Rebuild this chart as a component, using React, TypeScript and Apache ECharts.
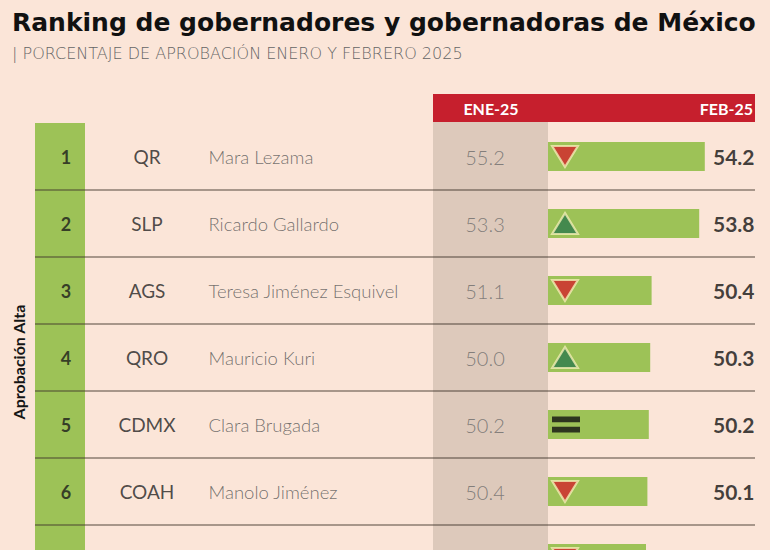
import React, { useEffect, useRef } from "react";
import * as echarts from "echarts";

const ranks = ["1", "2", "3", "4", "5", "6", "7"];
const states = ["QR", "SLP", "AGS", "QRO", "CDMX", "COAH", "YUC"];
const governors = [
  "Mara Lezama",
  "Ricardo Gallardo",
  "Teresa Jiménez Esquivel",
  "Mauricio Kuri",
  "Clara Brugada",
  "Manolo Jiménez",
  "Joaquín Díaz Mena",
];
const eneValues = [55.2, 53.3, 51.1, 50.0, 50.2, 50.4, 50.6];
const febValues = [54.2, 53.8, 50.4, 50.3, 50.2, 50.1, 50.0];
const columnLabels = ["ENE-25", "FEB-25"];
const titleText = "Ranking de gobernadores y gobernadoras de México";
const subtitleText = "| PORCENTAJE DE APROBACIÓN ENERO Y FEBRERO 2025";
const groupLabel = "Aprobación Alta";

const BG = "#FBE5D8";
const GREEN = "#9DC257";
const FONT = "Lato, 'Open Sans', sans-serif";
const WIDE = "'DejaVu Sans', sans-serif";

export default function App() {
  const ref = useRef<HTMLDivElement>(null);

  useEffect(() => {
    if (!ref.current) return;
    const chart = echarts.init(ref.current, undefined, { renderer: "svg" });

    const TOP = 123;
    const ROW_H = 67;
    const H = ROW_H * ranks.length;

    const textSeries = (x: number, values: (string | number)[], label: any) => ({
      type: "scatter",
      xAxisIndex: 1,
      yAxisIndex: 1,
      symbolSize: 1,
      silent: true,
      z: 6,
      itemStyle: { color: "transparent" },
      data: values.map((v, i) => [x, i, v]),
      label: {
        show: true,
        fontFamily: FONT,
        formatter: (p: any) => {
          const v = p.data[2];
          return typeof v === "number" ? v.toFixed(1) : v;
        },
        ...label,
      },
    });

    const trendData = febValues.map((f, i) => {
      const e = eneValues[i];
      if (f > e)
        return {
          value: [565, i],
          symbol: "triangle",
          symbolSize: [26, 21],
          symbolRotate: 0,
          itemStyle: { color: "#2E7A4C", borderColor: "#F2EDB4", borderWidth: 2 },
        };
      if (f < e)
        return {
          value: [565, i],
          symbol: "triangle",
          symbolSize: [26, 21],
          symbolRotate: 180,
          itemStyle: { color: "#D5232C", borderColor: "#F2EDB4", borderWidth: 2 },
        };
      return {
        value: [566, i],
        symbol: "path://M0,0H28V6H0ZM0,11H28V17H0Z",
        symbolSize: [28, 16],
        symbolRotate: 0,
        itemStyle: { color: "#111111", borderWidth: 0 },
      };
    });

    const option: any = {
      animation: false,
      backgroundColor: BG,
      grid: [
        { left: 548, top: TOP, width: 168, height: H },
        { left: 35, top: TOP, width: 720, height: H },
      ],
      xAxis: [
        { type: "value", gridIndex: 0, min: 43, max: 55, show: false },
        { type: "value", gridIndex: 1, min: 35, max: 755, show: false },
      ],
      yAxis: [
        { type: "category", gridIndex: 0, data: states, inverse: true, show: false },
        {
          type: "category",
          gridIndex: 1,
          data: states,
          inverse: true,
          z: 3,
          axisLine: { show: false },
          axisTick: { show: false },
          axisLabel: { show: false },
          splitLine: {
            show: true,
            showMinLine: false,
            lineStyle: { color: "rgba(64,52,44,0.6)", width: 1.5 },
          },
        },
      ],
      graphic: [
        {
          type: "rect",
          z: -10,
          shape: { x: 433, y: 122, width: 115, height: 480 },
          style: { fill: "#DDC9BB" },
        },
        {
          type: "rect",
          z: -10,
          shape: { x: 35, y: 123, width: 50, height: 480 },
          style: { fill: GREEN },
        },
        {
          type: "rect",
          z: -10,
          shape: { x: 433, y: 94, width: 322, height: 28 },
          style: { fill: "#C61F2D" },
        },
        {
          type: "text",
          x: 491,
          y: 108,
          style: {
            text: columnLabels[0],
            fill: "#ffffff",
            font: `bold 16px ${FONT}`,
            textAlign: "center",
            textVerticalAlign: "middle",
          },
        },
        {
          type: "text",
          x: 753,
          y: 108,
          style: {
            text: columnLabels[1],
            fill: "#ffffff",
            font: `bold 16px ${FONT}`,
            textAlign: "right",
            textVerticalAlign: "middle",
          },
        },
        {
          type: "text",
          x: 12,
          y: 22,
          style: {
            text: titleText,
            fill: "#111111",
            font: `bold 25px ${WIDE}`,
            textAlign: "left",
            textVerticalAlign: "middle",
          },
        },
        {
          type: "text",
          x: 12,
          y: 53,
          style: {
            text: subtitleText,
            fill: "#666666",
            font: `200 16px ${WIDE}`,
            textAlign: "left",
            textVerticalAlign: "middle",
          },
        },
        {
          type: "text",
          x: 18,
          y: 362,
          rotation: Math.PI / 2,
          style: {
            text: groupLabel,
            fill: "#151515",
            font: `bold 16px ${FONT}`,
            textAlign: "center",
            textVerticalAlign: "middle",
          },
        },
      ],
      series: [
        {
          type: "bar",
          xAxisIndex: 0,
          yAxisIndex: 0,
          data: febValues,
          barWidth: 29,
          silent: true,
          itemStyle: { color: GREEN },
          z: 3,
        },
        {
          type: "scatter",
          xAxisIndex: 1,
          yAxisIndex: 1,
          silent: true,
          z: 7,
          data: trendData,
        },
        textSeries(66, ranks, {
          position: "inside",
          color: "#1a1a1a",
          fontWeight: "bold",
          fontSize: 18,
        }),
        textSeries(147, states, {
          position: "inside",
          color: "#222222",
          fontSize: 19,
        }),
        textSeries(208, governors, {
          position: "right",
          distance: 0,
          color: "#525252",
          fontWeight: 300,
          fontSize: 18.5,
        }),
        textSeries(485, eneValues, {
          position: "inside",
          color: "#6a6a6a",
          fontWeight: 300,
          fontSize: 20,
        }),
        textSeries(755, febValues, {
          position: "left",
          distance: 0,
          color: "#111111",
          fontWeight: "bold",
          fontSize: 21,
        }),
      ],
    };

    chart.setOption(option);
    return () => chart.dispose();
  }, []);

  return (
    <div
      ref={ref}
      style={{ position: "fixed", left: 0, top: 0, width: 770, height: 600, background: BG }}
    />
  );
}
